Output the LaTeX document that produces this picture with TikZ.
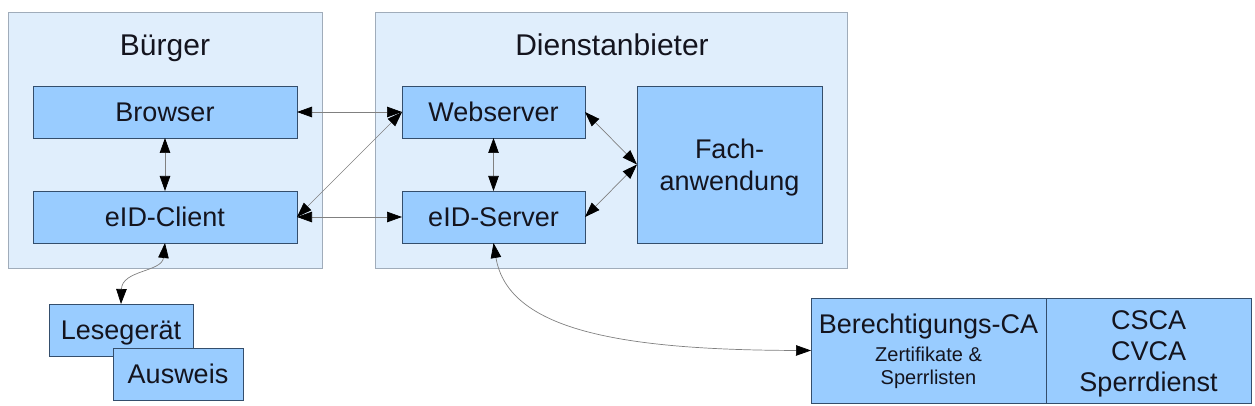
\documentclass[tikz,border=0pt]{standalone}
\usepackage{fontspec}
\setmainfont{Liberation Sans}
\usetikzlibrary{arrows.meta}
\definecolor{outerfill}{RGB}{224,238,252}
\definecolor{outerdraw}{RGB}{160,172,186}
\definecolor{innerfill}{RGB}{153,204,255}
\definecolor{innerdraw}{RGB}{52,78,108}
\definecolor{linegray}{RGB}{128,128,128}
\definecolor{txt}{RGB}{20,20,30}
\tikzset{
  outerbox/.style={draw=outerdraw, fill=outerfill, line width=0.9pt, anchor=north west, inner sep=0pt, outer sep=0pt},
  innerbox/.style={draw=innerdraw, fill=innerfill, line width=0.9pt, anchor=north west, inner sep=0pt, outer sep=0pt,
    font=\fontsize{27}{32}\selectfont, text=txt, align=center},
  oneline/.style={text height=19.5pt, text depth=0pt},
  titletext/.style={font=\fontsize{30}{36}\selectfont, text=txt, anchor=base, inner sep=0pt},
  conn/.style={draw=linegray, line width=0.7pt, {Triangle[length=15pt,width=10.5pt,color=black]}-{Triangle[length=15pt,width=10.5pt,color=black]}},
}
\begin{document}
\begin{tikzpicture}[x=1pt,y=-1pt]
\useasboundingbox (0,0) rectangle (1255,406);
% outer groups
\node[outerbox, minimum width=314pt, minimum height=256pt] (buerger) at (8,12) {};
\node[outerbox, minimum width=472pt, minimum height=256pt] (dienst) at (375,12) {};
\node[titletext] (tbuerger) at (165,56) {Bürger};
\node[titletext] (tdienst) at (612,56) {Dienstanbieter};
% inner boxes
\node[innerbox, oneline, minimum width=264pt, minimum height=52pt] (browser) at (33,86) {Browser};
\node[innerbox, oneline, minimum width=264pt, minimum height=52pt] (client) at (33,191) {eID-Client};
\node[innerbox, oneline, minimum width=183pt, minimum height=52pt] (web) at (402,86) {Webserver};
\node[innerbox, oneline, minimum width=183pt, minimum height=52pt] (server) at (402,191) {eID-Server};
\node[innerbox, text height=51.5pt, text depth=0pt, minimum width=185pt, minimum height=157pt] (fach) at (637,86) {Fach-\\anwendung};
\node[innerbox, oneline, minimum width=144pt, minimum height=52pt] (lese) at (49,304) {Lesegerät};
\node[innerbox, oneline, minimum width=130pt, minimum height=52pt] (ausweis) at (113,348) {Ausweis};
\node[innerbox, font=\fontsize{20}{23}\selectfont, text height=68pt, text depth=0pt, minimum width=235pt, minimum height=105pt] (berca) at (811,298)
  {{\fontsize{27}{28}\selectfont Berechtigungs-CA}\\[5pt]Zertifikate \&\\Sperrlisten};
\node[innerbox, font=\fontsize{27}{31}\selectfont, text height=81pt, text depth=0pt, minimum width=205pt, minimum height=105pt] (csca) at (1046,298)
  {CSCA\\CVCA\\Sperrdienst};
% connectors
\draw[conn] (browser.east) -- (web.west);
\draw[conn] (client.east) -- (server.west);
\draw[conn] (web.west) -- (client.east);
\draw[conn] (browser.south) -- (client.north);
\draw[conn] (web.south) -- (server.north);
\draw[conn] (web.east) -- (fach.west);
\draw[conn] (server.east) -- (fach.west);
\draw[conn] (client.south) .. controls (162,272) and (122,270) .. (lese.north);
\draw[conn] (server.south) .. controls (508,330) and (620,350) .. (berca.west);
\end{tikzpicture}
\end{document}
